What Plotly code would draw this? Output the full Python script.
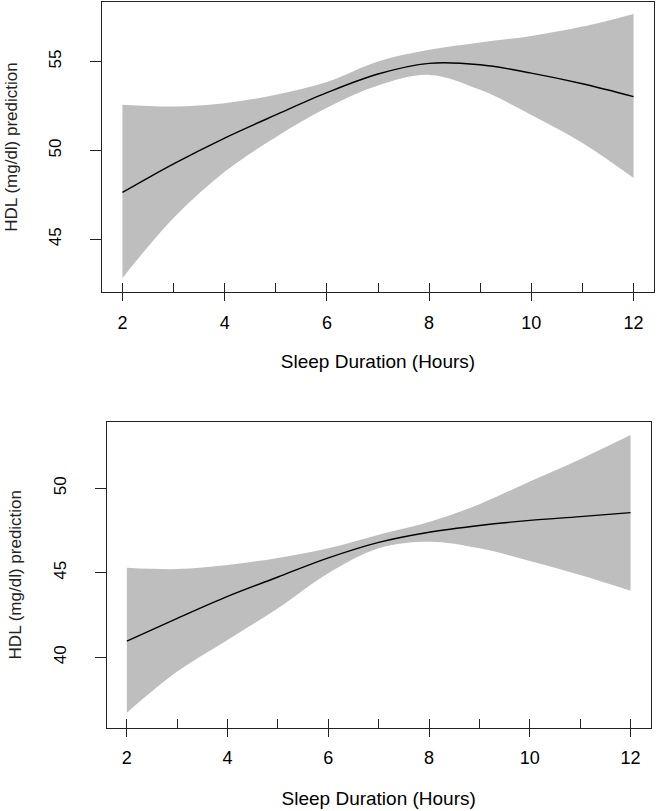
import plotly.graph_objects as go

hours = [2, 3, 4, 5, 6, 7, 8, 9, 10, 11, 12]

# Top panel
top_fit = [47.64, 49.25, 50.70, 52.00, 53.25, 54.30, 54.90, 54.82, 54.35, 53.75, 53.03]
top_upper = [52.57, 52.47, 52.66, 53.13, 53.85, 55.00, 55.66, 56.07, 56.44, 56.97, 57.68]
top_lower = [42.83, 46.20, 48.80, 50.75, 52.40, 53.65, 54.25, 53.41, 52.00, 50.42, 48.45]

# Bottom panel
bot_fit = [40.96, 42.30, 43.60, 44.75, 45.88, 46.80, 47.40, 47.80, 48.10, 48.32, 48.56]
bot_upper = [45.30, 45.22, 45.46, 45.88, 46.45, 47.25, 48.00, 49.06, 50.40, 51.72, 53.15]
bot_lower = [36.72, 39.15, 41.02, 42.90, 44.97, 46.45, 46.84, 46.45, 45.70, 44.87, 43.94]

x_ticks = [2, 4, 6, 8, 10, 12]
top_yticks = [45, 50, 55]
bot_yticks = [40, 45, 50]
x_title = "Sleep Duration (Hours)"
y_title = "HDL (mg/dl) prediction"

BAND = "#BEBEBE"
FONT = "Liberation Sans, Arial, sans-serif"
AX = "#222222"
SMOOTH = 1.0

fig = go.Figure()

def add_panel(fit, upper, lower, xa, ya, xa_overlay):
    fig.add_trace(go.Scatter(
        x=hours, y=lower, mode="lines",
        line=dict(width=0, color=BAND, shape="spline", smoothing=SMOOTH),
        hoverinfo="skip", showlegend=False, xaxis=xa, yaxis=ya))
    fig.add_trace(go.Scatter(
        x=hours, y=upper, mode="lines", fill="tonexty", fillcolor=BAND,
        line=dict(width=0, color=BAND, shape="spline", smoothing=SMOOTH),
        hoverinfo="skip", showlegend=False, xaxis=xa, yaxis=ya))
    fig.add_trace(go.Scatter(
        x=hours, y=fit, mode="lines",
        line=dict(color="black", width=1.4, shape="spline", smoothing=SMOOTH),
        showlegend=False, xaxis=xa, yaxis=ya))
    # invisible trace carrying the overlay axis (inner tick marks)
    fig.add_trace(go.Scatter(
        x=hours, y=fit, mode="lines", line=dict(width=0, color="rgba(0,0,0,0)"),
        hoverinfo="skip", showlegend=False, xaxis=xa_overlay, yaxis=ya))

add_panel(top_fit, top_upper, top_lower, "x", "y", "x3")
add_panel(bot_fit, bot_upper, bot_lower, "x2", "y2", "x4")

tickfont = dict(family=FONT, size=18, color="black")
titlefont = dict(family=FONT, size=19, color="black")

def xaxis_main(domain, anchor, standoff):
    return dict(domain=domain, anchor=anchor, range=[1.6, 12.4], automargin=False,
                tickvals=x_ticks, ticks="outside", ticklen=8, tickwidth=1.3, tickcolor=AX,
                ticklabelstandoff=6,
                showline=True, linecolor=AX, linewidth=1.3, mirror=True,
                showgrid=False, zeroline=False, tickfont=tickfont,
                title=dict(text=x_title, font=titlefont, standoff=standoff))

def xaxis_overlay(overlay, anchor, domain):
    return dict(overlaying=overlay, anchor=anchor, domain=domain, range=[1.6, 12.4],
                automargin=False,
                tickvals=[2, 3, 4, 5, 6, 7, 8, 9, 10, 11, 12], ticks="inside", ticklen=9,
                tickwidth=1.3, tickcolor=AX, side="bottom",
                showticklabels=False, showline=False, showgrid=False, zeroline=False)

def yaxis(domain, anchor, rng, tv):
    return dict(domain=domain, anchor=anchor, range=rng, tickvals=tv, automargin=False,
                ticks="outside", ticklen=11, tickwidth=1.3, tickcolor=AX,
                ticklabelstandoff=22,
                tickangle=-90, tickfont=dict(family=FONT, size=17, color="black"),
                showline=True, linecolor=AX, linewidth=1.3, mirror=True,
                showgrid=False, zeroline=False,
                title=dict(text=y_title, font=dict(family=FONT, size=17, color="#222222"),
                           standoff=24))

top_xdom = [102 / 657, 654 / 657]
bot_xdom = [106.7 / 657, 650.7 / 657]

fig.update_layout(
    width=657, height=811,
    margin=dict(l=0, r=0, t=0, b=0, autoexpand=False),
    paper_bgcolor="white", plot_bgcolor="white",
    xaxis=xaxis_main(top_xdom, "y", 22),
    xaxis3=xaxis_overlay("x", "y", top_xdom),
    yaxis=yaxis([1 - 292 / 811, 1 - 2 / 811], "x", [42.04, 58.35], top_yticks),
    xaxis2=xaxis_main(bot_xdom, "y2", 24),
    xaxis4=xaxis_overlay("x2", "y2", bot_xdom),
    yaxis2=yaxis([1 - 727.7 / 811, 1 - 421.7 / 811], "x2", [35.83, 53.94], bot_yticks),
)

fig.write_html("out.html", config={"displayModeBar": False},
               post_script="document.body.style.margin='0px';document.body.style.overflow='hidden';")
